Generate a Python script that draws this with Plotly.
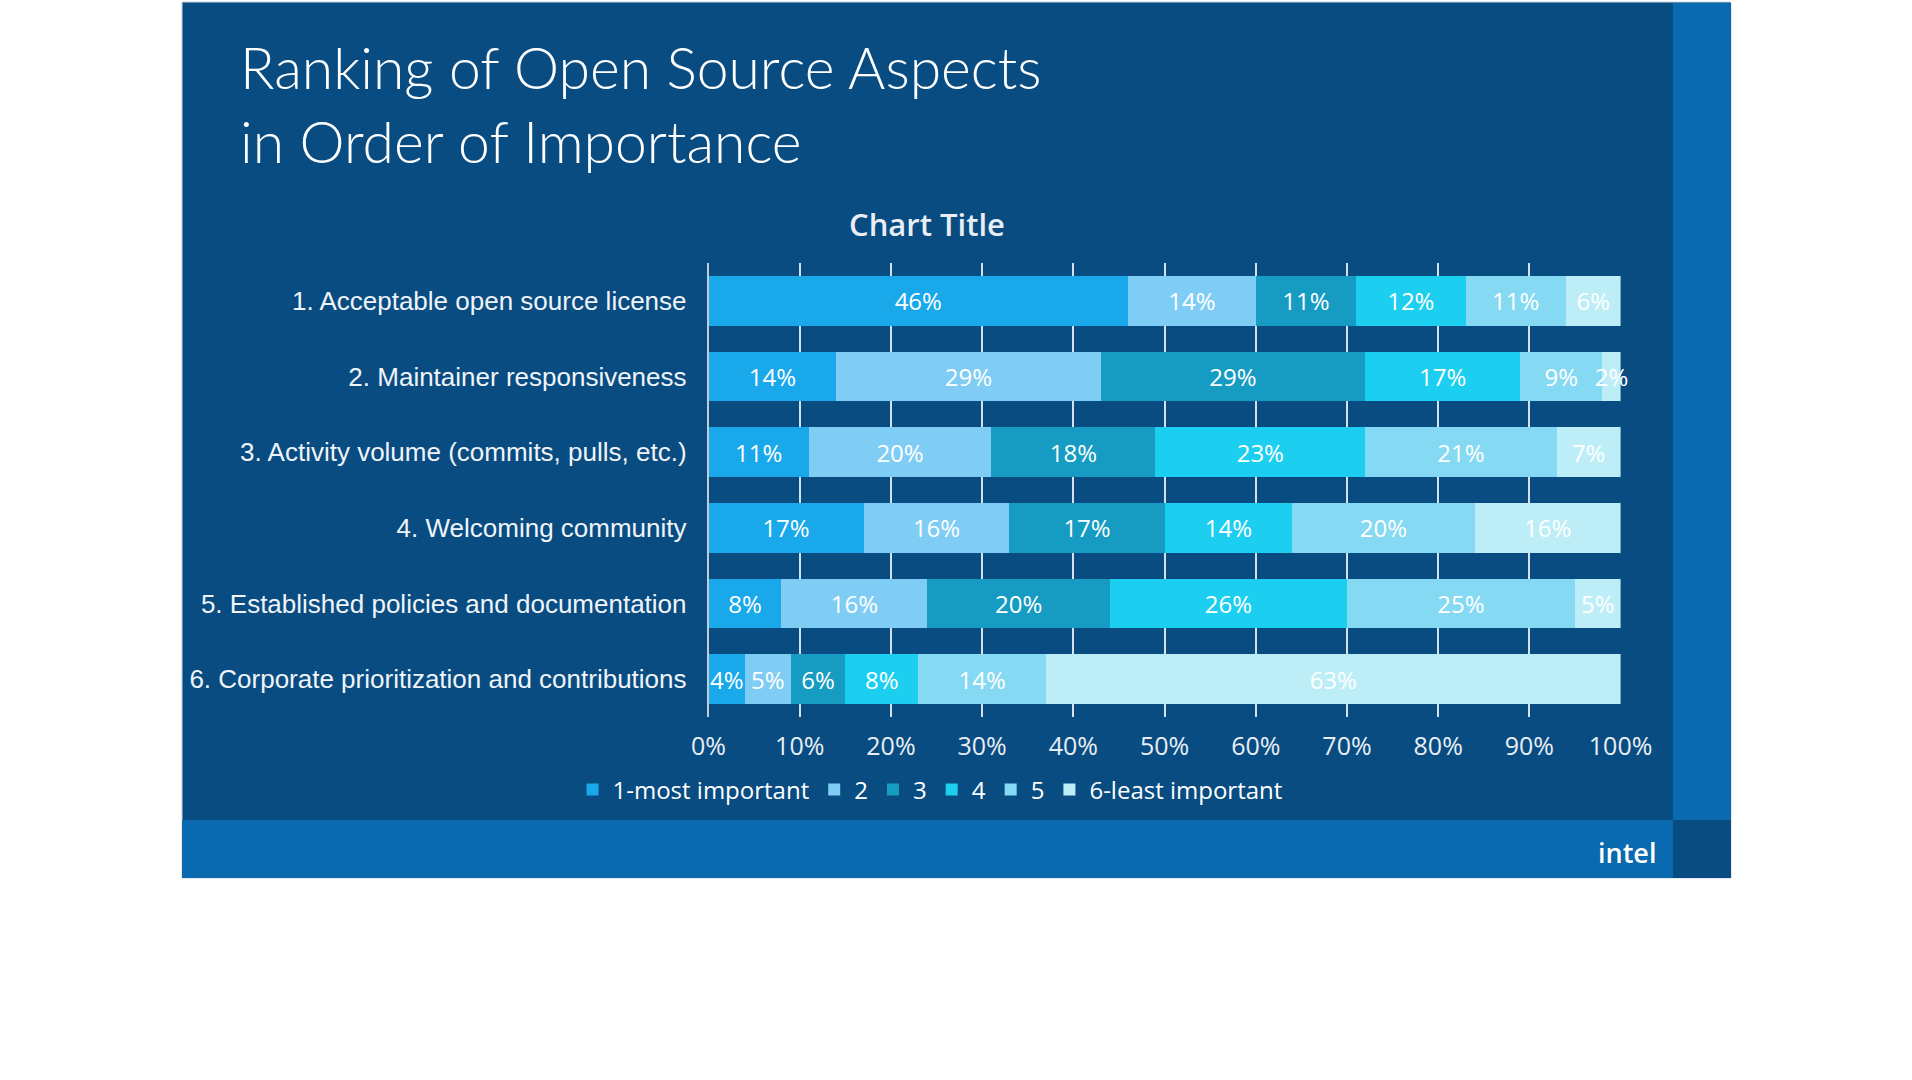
import plotly.graph_objects as go

W, H = 1912, 1080

categories = [
    "1. Acceptable open source license",
    "2. Maintainer responsiveness",
    "3. Activity volume (commits, pulls, etc.)",
    "4. Welcoming community",
    "5. Established policies and documentation",
    "6. Corporate prioritization and contributions",
]
series_names = ["1-most important", "2", "3", "4", "5", "6-least important"]
rank1 = [46, 14, 11, 17, 8, 4]
rank2 = [14, 29, 20, 16, 16, 5]
rank3 = [11, 29, 18, 17, 20, 6]
rank4 = [12, 17, 23, 14, 26, 8]
rank5 = [11, 9, 21, 20, 25, 14]
rank6 = [6, 2, 7, 16, 5, 63]
series_values = [rank1, rank2, rank3, rank4, rank5, rank6]
series_colors = ["#19a9ea", "#7fcdf5", "#169bc2", "#1ccff0", "#86d9f3", "#bdeef8"]
x_tickvals = [0, 10, 20, 30, 40, 50, 60, 70, 80, 90, 100]
x_ticktext = ["0%", "10%", "20%", "30%", "40%", "50%", "60%", "70%", "80%", "90%", "100%"]


def px(x):
    return x / W


def py(y):
    return 1 - y / H


BG = "#084c82"
STRIP = "#0a6ab0"

fig = go.Figure()
for name, vals, col in zip(series_names, series_values, series_colors):
    fig.add_trace(go.Bar(
        y=categories, x=vals, name=name, orientation="h",
        marker=dict(color=col, line=dict(width=0)),
        text=[f"{v}%" for v in vals], textposition="inside", insidetextanchor="middle",
        textangle=0, cliponaxis=False,
        insidetextfont=dict(color="white", size=24, family="Open Sans"),
        hoverinfo="name+x",
    ))

shapes = [
    dict(type="rect", xref="paper", yref="paper", x0=px(182), x1=px(1731), y0=py(878), y1=py(2),
         fillcolor=BG, line=dict(width=1, color="#c8d4e0"), layer="below"),
    dict(type="rect", xref="paper", yref="paper", x0=px(1673), x1=px(1731), y0=py(820), y1=py(3),
         fillcolor=STRIP, line=dict(width=0), layer="below"),
    dict(type="rect", xref="paper", yref="paper", x0=px(182), x1=px(1673), y0=py(878), y1=py(820),
         fillcolor=STRIP, line=dict(width=0), layer="below"),
    dict(type="rect", xref="paper", yref="paper", x0=px(1673), x1=px(1731), y0=py(878), y1=py(820),
         fillcolor=BG, line=dict(width=0), layer="below"),
]

annotations = [
    dict(text="Ranking of Open Source Aspects<br>in Order of Importance", xref="paper", yref="paper",
         x=px(238), y=py(104), xanchor="left", yanchor="middle", align="left", showarrow=False,
         font=dict(family="Lato", size=57, color="white", weight=300)),
    dict(text="Chart Title", xref="paper", yref="paper", x=px(927), y=py(224),
         xanchor="center", yanchor="middle", showarrow=False,
         font=dict(family="Open Sans", size=31, color="#e8eef4", weight=600)),
    dict(text="intel", xref="paper", yref="paper", x=px(1627), y=py(852),
         xanchor="center", yanchor="middle", showarrow=False,
         font=dict(family="Open Sans", size=27, color="white", weight=600)),
]

fig.update_layout(
    width=W, height=H,
    margin=dict(l=0, r=0, t=0, b=0, pad=0, autoexpand=False),
    paper_bgcolor="white", plot_bgcolor="rgba(0,0,0,0)",
    barmode="stack", bargap=0.34,
    showlegend=True,
    legend=dict(orientation="h", x=px(930), y=py(790), xanchor="center", yanchor="middle",
                traceorder="normal", font=dict(family="Open Sans", size=24, color="white"),
                bgcolor="rgba(0,0,0,0)", itemwidth=30, itemclick=False, itemdoubleclick=False),
    uniformtext=dict(minsize=24, mode="show"),
    shapes=shapes, annotations=annotations,
    xaxis=dict(domain=[px(708.5), px(1620.6)], range=[0, 100], automargin=False,
               tickvals=x_tickvals, ticktext=x_ticktext,
               showgrid=True, gridcolor="rgba(235,242,248,0.9)", gridwidth=1.5,
               zeroline=False, showline=False,
               tickfont=dict(family="Open Sans", size=25, color="#e8eef4"),
               ticklabelstandoff=12, fixedrange=True),
    yaxis=dict(domain=[py(717), py(263)], autorange="reversed", automargin=False,
               showgrid=False, showline=True, linecolor="#c0ccd8", linewidth=1.5,
               tickfont=dict(family="Liberation Sans", size=26, color="#f0f4f8"),
               ticklabelstandoff=15, fixedrange=True),
)

fig.write_html("out.html", config={"displayModeBar": False},
               post_script="document.body.style.margin='0';document.body.style.overflow='hidden';")
